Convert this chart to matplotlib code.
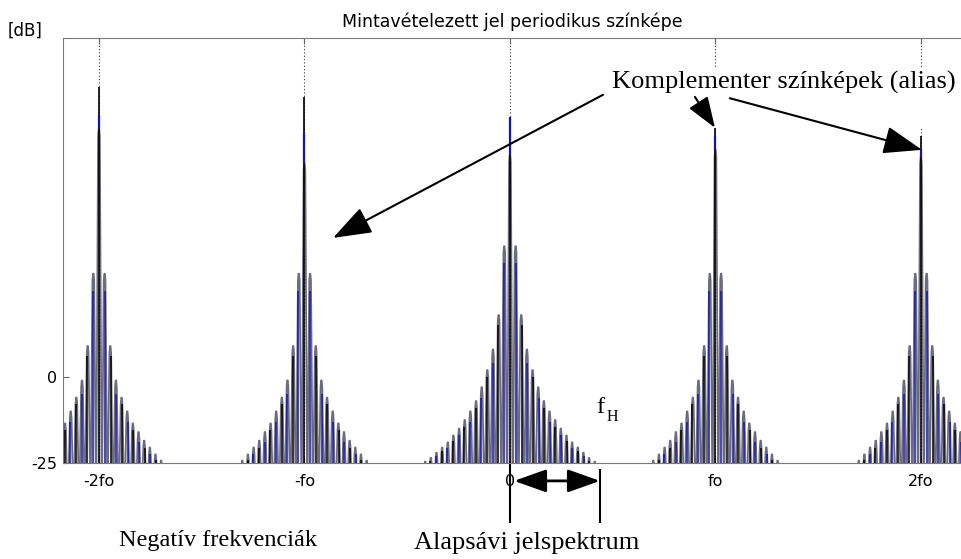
import matplotlib.pyplot as plt
from matplotlib.patches import Rectangle

# spectral lines of the sampled signal, in units of fo
centers = [-2, -1, 0, 1, 2]
tick_labels = ['-2fo', '-fo', '0', 'fo', '2fo']
peak_top = [84.3, 81.4, 75.6, 76.0, 70.0]     # dB, main line
blue_top = [76.0, 71.0, 75.6, 70.0, 66.0]     # dB, blue part of main line
tube_top = [72.0, 62.0, 64.5, 66.0, 64.0]     # dB, main lobe outline

# side lobe levels (dB) for k = 1, 2, ... steps away from a line
lobes_base = [38, 18, 8, 2, -3, -7, -10, -12.5, -15, -17, -19, -20.5, -22, -23.5, -24.6]
lobes_alias = [30, 9, -1, -6, -10, -13.5, -16, -18.5, -20.5, -22.5, -24.3]
stem_drop = [5, 3, 4, 2, 3, 2, 3, 2, 2, 1.5, 1.5, 1, 1, 1, 0.5]
lobe_step = 0.0275

gray = '#6c6c80'
blue = '#1414a8'
serif = 'Liberation Serif'
sans = 'DejaVu Sans'

fig = plt.figure(figsize=(9.61, 5.59), dpi=100)
ax = fig.add_axes([63 / 961, 96 / 559, 898 / 961, 425 / 559])


def draw_line_group(c, top, btop, ttop, lobes):
    n = len(lobes)
    levels = lobes[::-1] + [ttop] + lobes
    xs, ys = [], []
    w = lobe_step * 0.5
    for k, h in zip(range(-n, n + 1), levels):
        x0 = c + k * lobe_step
        xs += [x0 - w, x0 - 0.3 * w, x0 - 0.1 * w, x0 + 0.1 * w, x0 + 0.3 * w]
        ys += [-40, h - 2, h, h, h - 2]
    xs.append(c + n * lobe_step + w)
    ys.append(-40)
    ax.plot(xs, ys, color=gray, lw=1.3, zorder=2)
    # sampled components inside the lobes
    for k in range(1, n + 1):
        h = lobes[k - 1] - stem_drop[k - 1]
        col = blue if k % 2 else 'black'
        for s in (-1, 1):
            x0 = c + s * (k * lobe_step + 0.12 * w)
            ax.vlines(x0, -25, h, color=col, lw=1.1, zorder=3)
    ax.vlines(c, -25, top, color='black', lw=1.2, zorder=3)
    ax.vlines(c, ttop, btop, color=blue, lw=1.6, zorder=4)


for i, c in enumerate(centers):
    lobes = lobes_base if c == 0 else lobes_alias
    draw_line_group(c, peak_top[i], blue_top[i], tube_top[i], lobes)

ax.set_xlim(-2.175, 2.195)
ax.set_ylim(-25, 98.5)
ax.set_xticks(centers)
ax.set_xticklabels(tick_labels)
ax.set_yticks([-25, 0])
ax.set_yticklabels(['-25', '0'])
ax.xaxis.grid(True, linestyle=(0, (1, 2)), color='#333333', lw=0.8)
ax.set_axisbelow(True)
ax.tick_params(direction='in', top=True, length=4, color='#666666',
               labelsize=11.5)
ax.tick_params(axis='x', pad=8)
ax.tick_params(axis='y', pad=4)
for lab in ax.get_xticklabels() + ax.get_yticklabels():
    lab.set_family(sans)
for side in ('left', 'bottom', 'top'):
    ax.spines[side].set_color('#7a7a7a')
ax.spines['right'].set_visible(False)

ax.set_title('Mintavételezett jel periodikus színképe', family=sans,
             fontsize=12.5, pad=8)
fig.text(8 / 961, 1 - 31 / 559, '[dB]', family=sans, fontsize=12, va='center')

# white box behind the alias label
ax.add_patch(Rectangle((0.39, 72.4), 1.9, 17.5, facecolor='white',
                       edgecolor='none', zorder=5))
ax.text(0.496, 85.5, 'Komplementer színképek (alias)', family=serif,
        fontsize=19, va='center', ha='left', zorder=6)

head = '-|>,head_length=1.0,head_width=0.36'
arrows = [((0.453, 82.0), (-0.861, 40.4), 24),
          ((0.90, 81.4), (0.998, 72.4), 19),
          ((1.07, 81.0), (2.005, 66.0), 24)]
for tail, tip, size in arrows:
    ax.annotate('', xy=tip, xytext=tail,
                arrowprops=dict(arrowstyle=head, color='black', lw=1.5,
                                mutation_scale=size, shrinkA=0, shrinkB=0),
                zorder=7)

# baseband marker below the axis
ax.annotate('', xy=(0.438, -30.2), xytext=(0.02, -30.2), annotation_clip=False,
            arrowprops=dict(arrowstyle='<|-|>,head_length=0.9,head_width=0.32',
                            color='black', lw=2, mutation_scale=22,
                            shrinkA=0, shrinkB=0))
for x0, y0 in ((0.0, -24.7), (0.438, -27.0)):
    ax.plot([x0, x0], [y0, -42], color='black', lw=1.5, clip_on=False)

ax.text(0.42, -9.0, 'f', family=serif, fontsize=17.5, va='center', ha='left')
ax.text(0.47, -11.5, 'H', family=serif, fontsize=11.5, va='center', ha='left')
ax.text(-1.42, -47.4, 'Negatív frekvenciák', family=serif, fontsize=17.5,
        ha='center', va='center', clip_on=False)
ax.text(0.083, -48.3, 'Alapsávi jelspektrum', family=serif, fontsize=19,
        ha='center', va='center', clip_on=False)

fig.savefig('out.png', dpi=100)
